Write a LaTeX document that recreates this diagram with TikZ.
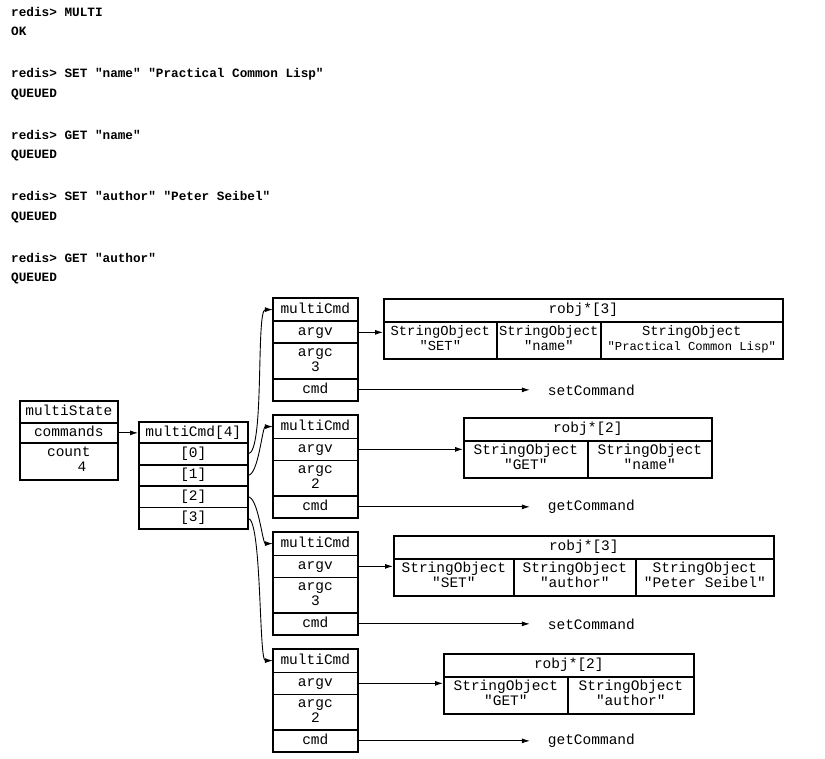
\documentclass[tikz,border=0pt]{standalone}
\usepackage{fontspec}
\setmonofont{Liberation Mono}
\usetikzlibrary{matrix, positioning, arrows.meta}

\newcommand\boxfont{\ttfamily\fontsize{14.5}{15}\selectfont}
\newcommand\cellfont{\ttfamily\fontsize{13.8}{15}\selectfont}
\newcommand\shellfont{\ttfamily\bfseries\fontsize{12.7}{15}\selectfont}
\newcommand\twolines[2]{\begin{tabular}{@{}c@{}}#1\\#2\end{tabular}}

\tikzset{
  stack/.style={
    matrix of nodes,
    line width=1.7pt,
    row sep=-\pgflinewidth,
    column sep=-\pgflinewidth,
    inner sep=0pt, outer sep=0pt,
    anchor=north west,
    nodes={rectangle, draw=black, line width=1.7pt, inner sep=1pt, font=\boxfont},
  },
  oneline/.style={text height=10pt, text depth=3pt},
  tablehead/.style={
    rectangle, draw=black, line width=1.7pt, inner sep=1pt,
    font=\boxfont, oneline, minimum height=23pt, anchor=north west
  },
  ptr/.style={line width=0.9pt, -{Latex[length=8pt,width=5pt]}},
  fn/.style={font=\boxfont, inner xsep=18pt, inner ysep=1pt, outer sep=0pt},
  shell/.style={font=\shellfont, anchor=base west, inner sep=0pt},
}

\begin{document}
\begin{tikzpicture}[x=1pt, y=-1pt]
  \useasboundingbox (0,0) rectangle (825,759);

  % the redis-cli session
  \foreach \req/\ans [count=\k] in {MULTI/OK, SET "name" "Practical Common Lisp"/QUEUED, GET "name"/QUEUED, SET "author" "Peter Seibel"/QUEUED, GET "author"/QUEUED} {
    \node[shell] (req\k) at (11,{16.5+61.5*(\k-1)}) {redis> \req};
    \node[shell] (ans\k) at (11,{36+61.5*(\k-1)}) {\ans};
  }

  % multiState
  \matrix (state) [stack, nodes={minimum width=98pt},
    row 1/.style={nodes={oneline, minimum height=22pt}},
    row 2/.style={nodes={oneline, minimum height=20pt}},
    row 3/.style={nodes={minimum height=37pt}}] at (19,400) {
    multiState\\
    commands\\
    \twolines{count}{\hphantom{cou}4}\\
  };

  % commands array
  \matrix (slots) [stack, nodes={oneline, minimum width=109pt, minimum height=21.4pt}] at (138,421) {
    multiCmd[4]\\
    \relax[0]\\
    \relax[1]\\
    \relax[2]\\
    \relax[3]\\
  };
  \draw[ptr] (state-2-1) -- (state-2-1 -| slots.west);

  % one multiCmd per queued command
  \foreach \i/\nargs/\op in {1/3/set, 2/2/get, 3/3/set, 4/2/get} {
    \matrix (cmd\i) [stack, nodes={minimum width=85pt},
      row 1/.style={nodes={oneline, minimum height=23.5pt}},
      row 2/.style={nodes={oneline, minimum height=22pt}},
      row 3/.style={nodes={minimum height=35.5pt}},
      row 4/.style={nodes={oneline, minimum height=22pt}}]
      at (272,{297+117*(\i-1)}) {
      multiCmd\\
      argv\\
      \twolines{argc}{\nargs}\\
      cmd\\
    };
    \node[fn, right=172pt of cmd\i-4-1] (fn\i) {\op Command};
    \draw[ptr] (cmd\i-4-1) -- (fn\i);
  }

  \draw[ptr] (slots-2-1.east) to[out=0, in=180, looseness=0.3] (cmd1-1-1.west);
  \draw[ptr] (slots-3-1.east) to[out=0, in=180, looseness=0.5] (cmd2-1-1.west);
  \draw[ptr] (slots-4-1.east) to[out=0, in=180, looseness=0.5] (cmd3-1-1.west);
  \draw[ptr] (slots-5-1.east) to[out=0, in=180, looseness=0.25] (cmd4-1-1.west);

  % argument vectors
  \node[tablehead, minimum width=399pt] (robj1) at (383,298) {robj*[3]};
  \matrix (args1) [stack, nodes={minimum height=37pt, font=\cellfont}] at ([yshift=1.7pt]robj1.south west) {
    |[minimum width=113pt]|\twolines{StringObject}{"SET"}&%
    |[minimum width=104pt]|\twolines{StringObject}{"name"}&%
    |[minimum width=182pt]|\twolines{StringObject}{\fontsize{12.2}{15}\selectfont"Practical Common Lisp"}\\
  };

  \node[tablehead, minimum width=248pt] (robj2) at (463,417) {robj*[2]};
  \matrix (args2) [stack, nodes={minimum height=37pt}] at ([yshift=1.7pt]robj2.south west) {
    |[minimum width=124pt]|\twolines{StringObject}{"GET"}&%
    |[minimum width=124pt]|\twolines{StringObject}{"name"}\\
  };

  \node[tablehead, minimum width=380pt] (robj3) at (393,535) {robj*[3]};
  \matrix (args3) [stack, nodes={minimum height=37pt}] at ([yshift=1.7pt]robj3.south west) {
    |[minimum width=120pt]|\twolines{StringObject}{"SET"}&%
    |[minimum width=122pt]|\twolines{StringObject}{"author"}&%
    |[minimum width=138pt]|\twolines{StringObject}{"Peter Seibel"}\\
  };

  \node[tablehead, minimum width=250pt] (robj4) at (443,653) {robj*[2]};
  \matrix (args4) [stack, nodes={minimum height=37pt}] at ([yshift=1.7pt]robj4.south west) {
    |[minimum width=124pt]|\twolines{StringObject}{"GET"}&%
    |[minimum width=126pt]|\twolines{StringObject}{"author"}\\
  };

  \foreach \i in {1,...,4}
    \draw[ptr] (cmd\i-2-1) -- (cmd\i-2-1 -| robj\i.west);
\end{tikzpicture}
\end{document}
